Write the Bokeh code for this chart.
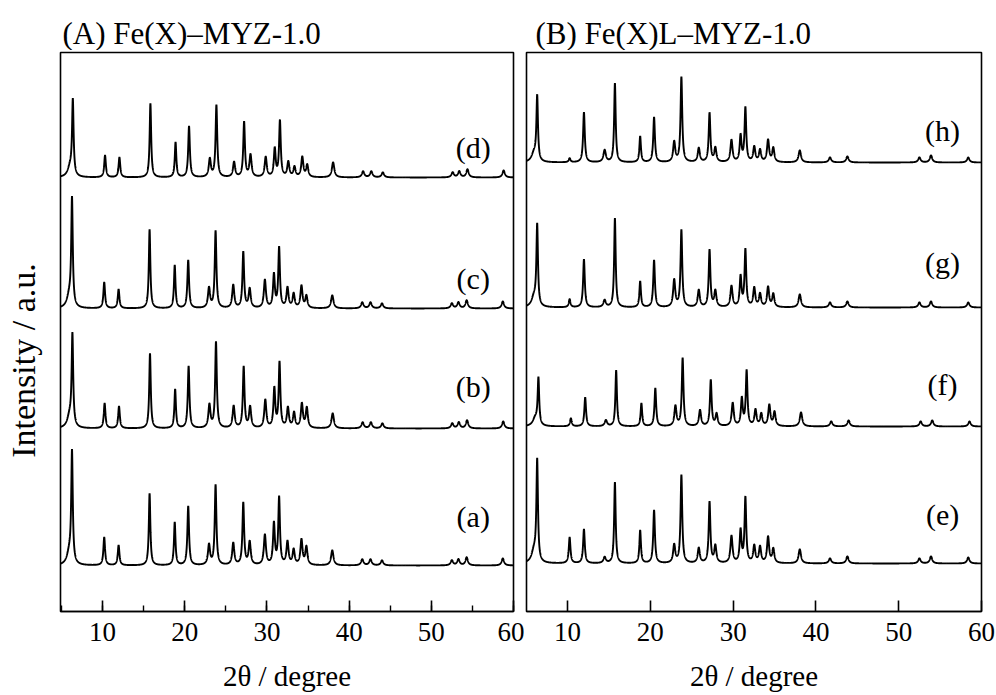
import numpy as np
from bokeh.plotting import figure
from bokeh.layouts import row, column
from bokeh.models import Range1d, SingleIntervalTicker
from bokeh.core.properties import value
from bokeh.embed import file_html
from bokeh.resources import INLINE

FONT = "'Liberation Serif', 'Times New Roman', serif"

# ---------------- data ----------------
# Panel A: Fe(X)-MYZ-1.0, peak positions (2theta, degree) and widths (FWHM, degree)
peaks_A = [5.95, 6.28, 10.2, 11.95, 15.72, 18.78, 20.42, 22.95, 23.75, 25.9, 27.12, 27.9,
           29.75, 30.85, 31.48, 32.5, 33.25, 34.2, 34.8, 37.95, 41.6, 42.6, 44.0,
           52.5, 53.3, 54.3, 58.7]
widths_A = [0.7, 0.22, 0.24, 0.24, 0.22, 0.22, 0.24, 0.3, 0.24, 0.3, 0.24, 0.3,
            0.3, 0.26, 0.24, 0.3, 0.3, 0.3, 0.3, 0.35, 0.35, 0.35, 0.35,
            0.35, 0.35, 0.35, 0.35]
# peak heights (a.u.) for each pattern
h_a = [12, 110, 28, 20, 72, 43, 59, 20, 80, 22, 62, 23, 30, 41, 67, 23, 15, 25, 18, 15, 6, 6, 5, 5, 6, 8, 7]
h_b = [12, 90, 25, 22, 75, 39, 62, 23, 86, 22, 61, 21, 28, 39, 65, 20, 15, 24, 20, 15, 6, 6, 5, 5, 6, 8, 7]
h_c = [12, 106, 26, 19, 79, 43, 48, 20, 77, 23, 56, 19, 28, 33, 60, 20, 14, 22, 12, 13, 6, 6, 5, 5, 6, 8, 7]
h_d = [10, 74, 22, 20, 74, 35, 51, 18, 72, 15, 55, 22, 20, 28, 56, 15, 10, 20, 12, 15, 6, 6, 5, 5, 6, 8, 7]

# Panel B: Fe(X)L-MYZ-1.0
peaks_B = [5.95, 6.33, 10.25, 11.98, 14.48, 15.72, 18.77, 20.45, 22.88, 23.75, 25.85, 27.15,
           27.85, 29.8, 30.9, 31.48, 32.55, 33.25, 34.22, 34.85, 38.05, 41.7, 43.8,
           52.5, 53.9, 58.4]
widths_B = [0.7, 0.22, 0.24, 0.24, 0.35, 0.22, 0.22, 0.24, 0.3, 0.24, 0.3, 0.24,
            0.3, 0.3, 0.26, 0.24, 0.3, 0.3, 0.3, 0.3, 0.35, 0.35, 0.35,
            0.35, 0.35, 0.35]
h_e = [12, 100, 26, 34, 6, 81, 33, 53, 18, 88, 15, 61, 17, 27, 32, 65, 17, 16, 26, 14, 14, 5, 7, 5, 7, 6]
h_f = [8, 46, 8, 29, 6, 56, 23, 38, 20, 68, 16, 46, 12, 23, 27, 55, 16, 12, 21, 14, 14, 5, 6, 5, 6, 5]
h_g = [10, 80, 8, 48, 7, 89, 26, 47, 27, 77, 17, 57, 16, 21, 30, 57, 19, 13, 20, 13, 13, 5, 6, 5, 6, 5]
h_h = [9, 64, 4, 50, 12, 79, 26, 45, 20, 85, 14, 49, 14, 22, 26, 54, 15, 12, 22, 14, 12, 5, 6, 5, 7, 5]

# zero shift of each pattern (degree) and vertical stacking offset (a.u.)
names_A = ["(a)", "(b)", "(c)", "(d)"]
shift_A = [0.0, 0.05, 0.0, 0.1]
offset_A = [46, 183, 303, 434]
label_y_A = [95, 225, 333, 464]

names_B = ["(e)", "(f)", "(g)", "(h)"]
shift_B = [0.0, 0.15, 0.0, 0.0]
offset_B = [48, 185, 304, 449]
label_y_B = [97, 227, 349, 481]

titles = ["(A) Fe(X)\u2013MYZ-1.0", "(B) Fe(X)L\u2013MYZ-1.0"]
x_label = "2\u03b8 / degree"
y_label = "Intensity / a.u."


def pattern(x, pos, hts, wids, shift, base):
    y = np.full_like(x, float(base))
    for p, h, w in zip(pos, hts, wids):
        y += h / (1.0 + ((x - p - shift) / (w / 2.0)) ** 2)
    return y


def blank(width, height, xr, yr, top=0, bottom=0):
    f = figure(width=width, height=height, x_range=Range1d(*xr), y_range=Range1d(*yr),
               output_backend="svg", toolbar_location=None, x_axis_location=None,
               y_axis_location=None, min_border_left=0, min_border_right=0,
               min_border_top=top, min_border_bottom=bottom)
    f.outline_line_color = None
    f.grid.visible = False
    f.background_fill_color = "white"
    f.border_fill_color = "white"
    return f


def make_panel(xr, heights, pos, wids, shifts, offsets, names, label_y, label_x,
               width, bl, br, minor):
    p = figure(width=width, height=645, x_range=Range1d(*xr), y_range=Range1d(0, 559),
               output_backend="svg", toolbar_location=None,
               min_border_left=bl, min_border_right=br, min_border_top=2, min_border_bottom=84,
               y_axis_location=None)
    p.background_fill_color = "white"
    p.border_fill_color = "white"
    p.grid.visible = False
    p.outline_line_color = "black"
    p.outline_line_width = 1.6
    p.outline_line_alpha = 1.0

    x = np.arange(xr[0], xr[1] + 1e-9, 0.01)
    for hts, sh, off in zip(heights, shifts, offsets):
        y = pattern(x, pos, hts, wids, sh, off)
        p.line(x, y, line_color="black", line_width=1.9)

    p.text(x=[label_x] * len(names), y=label_y, text=names, text_font=value(FONT),
           text_font_size="30px", text_align="center", text_baseline="middle",
           text_color="black")

    ax = p.xaxis[0]
    ax.ticker = SingleIntervalTicker(interval=10, num_minor_ticks=2 if minor else 0)
    ax.axis_line_color = "black"
    ax.axis_line_width = 1.6
    ax.major_tick_in = 11
    ax.major_tick_out = 0
    ax.major_tick_line_width = 1.6
    ax.minor_tick_in = 6 if minor else 0
    ax.minor_tick_out = 0
    ax.minor_tick_line_width = 1.4
    if not minor:
        ax.minor_tick_line_color = None
    ax.major_label_text_font = FONT
    ax.major_label_text_font_size = "27px"
    ax.major_label_text_color = "black"
    ax.major_label_standoff = 11
    ax.axis_label = x_label
    ax.axis_label_text_font = FONT
    ax.axis_label_text_font_size = "29px"
    ax.axis_label_text_font_style = "normal"
    ax.axis_label_text_color = "black"
    ax.axis_label_standoff = 16
    return p


# title strip (pixel coordinates of the strip)
top = blank(996, 50, (0, 996), (0, 50))
top.text(x=[62, 535], y=[17, 17], text=titles, text_font=value(FONT), text_font_size="31px",
         text_align="left", text_baseline="alphabetic", text_color="black")

# y-label strip, same vertical range as the panels
side = blank(58, 645, (0, 58), (0, 559), top=2, bottom=84)
side.text(x=[23], y=[251], text=[y_label], angle=np.pi / 2, text_font=value(FONT),
          text_font_size="34px", text_align="center", text_baseline="middle",
          text_color="black")

p1 = make_panel((4.88, 60.0), [h_a, h_b, h_c, h_d], peaks_A, widths_A,
                shift_A, offset_A, names_A, label_y_A, 55.1, 466, 2, 11, True)
p2 = make_panel((5.04, 60.0), [h_e, h_f, h_g, h_h], peaks_B, widths_B,
                shift_B, offset_B, names_B, label_y_B, 55.3, 472, 2, 15, False)

layout = column(top, row(side, p1, p2))
open("out.html", "w").write(file_html(layout, INLINE))
